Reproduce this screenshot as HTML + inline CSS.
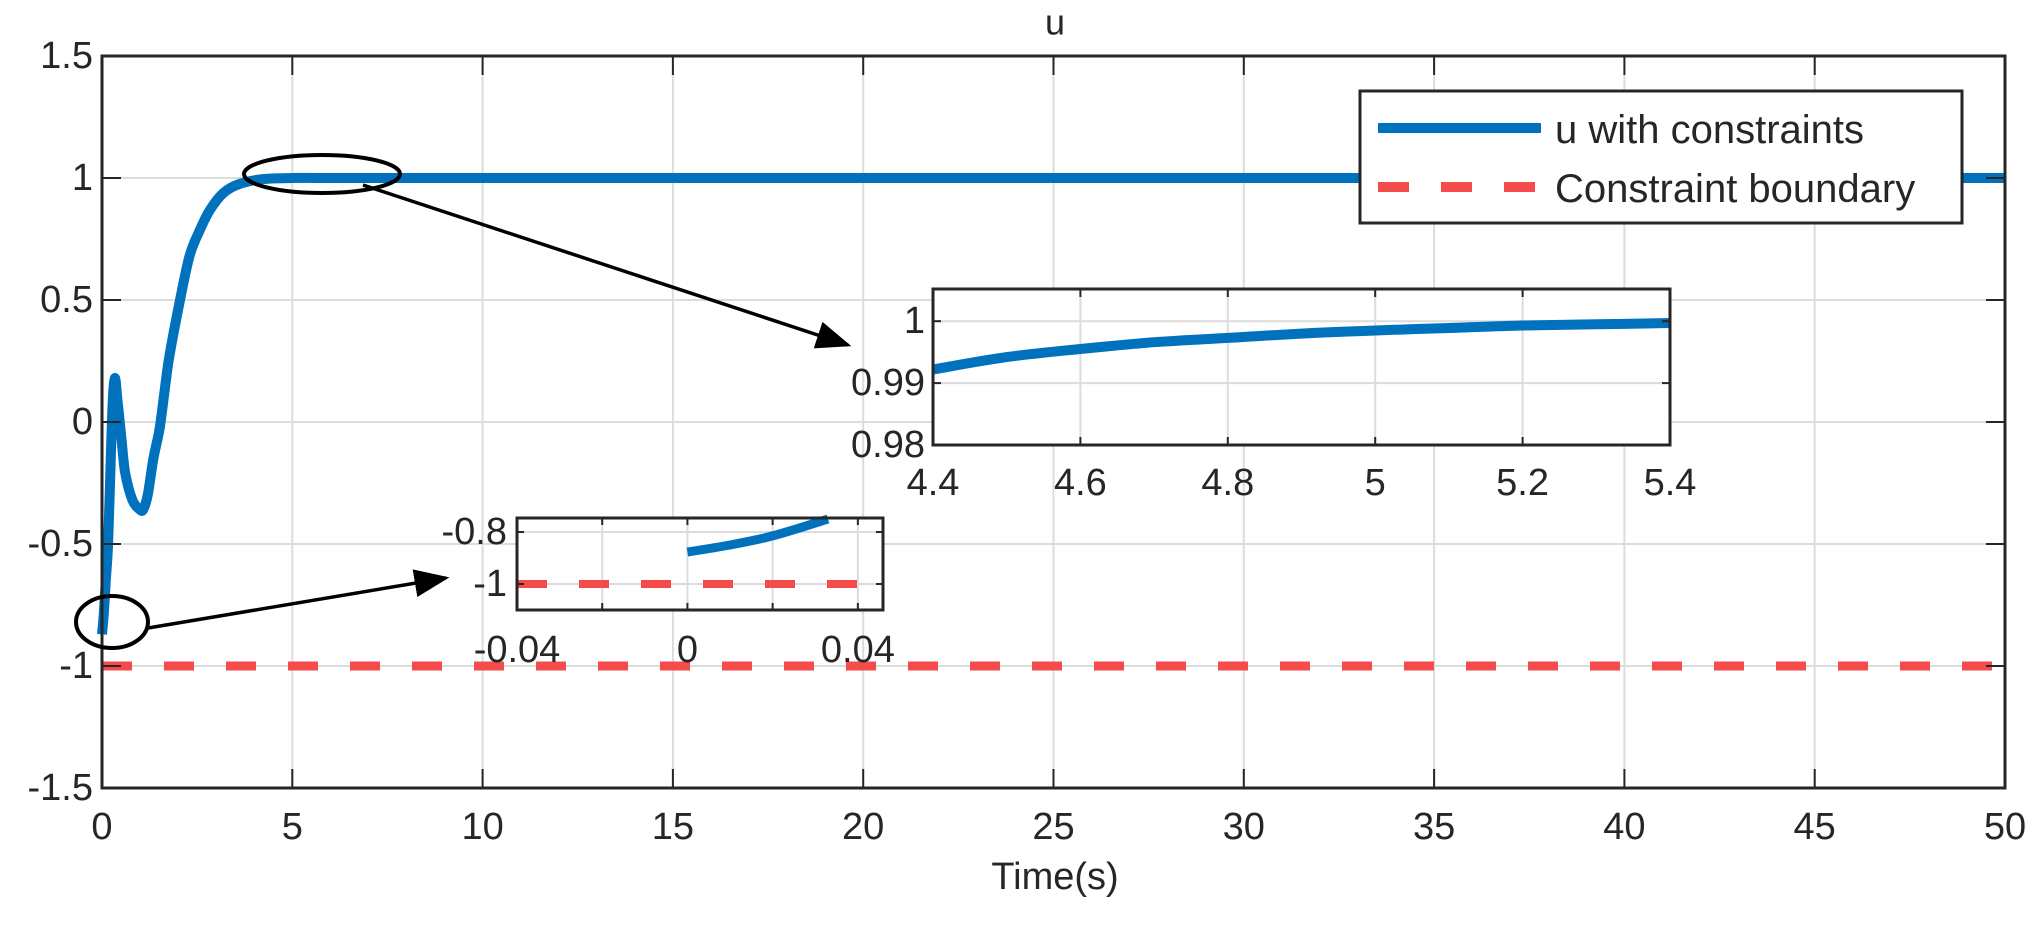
<!DOCTYPE html>
<html><head><meta charset="utf-8"><style>
body{margin:0;background:#fff;}
svg text{font-family:"Liberation Sans",Arial,sans-serif;fill:#262626;}
</style></head><body>
<svg id="c" width="2032" height="927" xmlns="http://www.w3.org/2000/svg">
<defs><marker id="ah" markerWidth="10" markerHeight="8" refX="9" refY="4" orient="auto" markerUnits="strokeWidth"><path d="M0,0 L10,4 L0,8 z" fill="#000"/></marker></defs>
</svg>
<script>
const tVals=[0,0.05,0.1,0.16,0.22,0.28,0.34,0.4,0.5,0.6,0.8,1.0,1.08,1.2,1.35,1.52,1.75,2.05,2.3,2.55,2.84,3.2,3.6,4.2,5,6,50];
const uVals=[-0.87,-0.78,-0.65,-0.5,-0.2,0.08,0.18,0.1,-0.05,-0.2,-0.32,-0.36,-0.36,-0.3,-0.15,-0.02,0.25,0.5,0.68,0.78,0.87,0.94,0.975,0.995,1,1,1];
const boundT=[0,50];
const boundU=[-1,-1];
const xTicks=[0,5,10,15,20,25,30,35,40,45,50];
const yTicks=[-1.5,-1,-0.5,0,0.5,1,1.5];
const zoomT=[4.4,4.5,4.6,4.7,4.8,4.9,5.0,5.1,5.2,5.3,5.4];
const zoomU=[0.9922,0.9942,0.9955,0.9966,0.9973,0.9980,0.9985,0.9989,0.9993,0.9995,0.9997];
const zoomXTicks=[4.4,4.6,4.8,5,5.2,5.4];
const zoomYTicks=[0.98,0.99,1];
const zoom2T=[0,0.01,0.02,0.033];
const zoom2U=[-0.877,-0.85,-0.815,-0.75];
const zoom2XTicks=[-0.04,0,0.04];
const zoom2XMinor=[-0.04,-0.02,0,0.02,0.04];
const zoom2YTicks=[-1,-0.8];

const svg=document.getElementById('c');
const NS='http://www.w3.org/2000/svg';
function el(tag,attrs,parent){const e=document.createElementNS(NS,tag);for(const k in attrs)e.setAttribute(k,attrs[k]);(parent||svg).appendChild(e);return e;}
function txt(s,x,y,size,anchor,name,parent){const t=el('text',{x:x,y:y,'font-size':size,'text-anchor':anchor,'dominant-baseline':'central'},parent);t.textContent=s;


return t;}

function axes(box,xlim,ylim,xt,yt,xMinor,name){
  const g=el('g',{});
  
  
  const X=v=>box.x+(v-xlim[0])/(xlim[1]-xlim[0])*box.w;
  const Y=v=>box.y+box.h-(v-ylim[0])/(ylim[1]-ylim[0])*box.h;
  el('rect',{x:box.x,y:box.y,width:box.w,height:box.h,fill:'#fff'},g);
  (xMinor||xt).forEach(v=>{const gl=el('line',{x1:X(v),x2:X(v),y1:box.y,y2:box.y+box.h,stroke:'#dcdcdc','stroke-width':2},g);
    
    });
  yt.forEach(v=>{const gl=el('line',{x1:box.x,x2:box.x+box.w,y1:Y(v),y2:Y(v),stroke:'#dcdcdc','stroke-width':2},g);
    
    });
  return {g,X,Y,finish:(tl)=>{
    (xMinor||xt).forEach(v=>{el('line',{x1:X(v),x2:X(v),y1:box.y+box.h,y2:box.y+box.h-tl,stroke:'#262626','stroke-width':2},g);el('line',{x1:X(v),x2:X(v),y1:box.y,y2:box.y+tl,stroke:'#262626','stroke-width':2},g);});
    yt.forEach(v=>{el('line',{x1:box.x,x2:box.x+tl,y1:Y(v),y2:Y(v),stroke:'#262626','stroke-width':2},g);el('line',{x1:box.x+box.w,x2:box.x+box.w-tl,y1:Y(v),y2:Y(v),stroke:'#262626','stroke-width':2},g);});
    const b=el('rect',{x:box.x,y:box.y,width:box.w,height:box.h,fill:'none',stroke:'#262626','stroke-width':3},g);
    
    
  }};
}
function path(ax,xs,ys,attrs,name,smooth){
  const P=xs.map((v,i)=>[ax.X(v),ax.Y(ys[i])]);
  let d='M'+P[0][0].toFixed(1)+','+P[0][1].toFixed(1);
  for(let i=0;i<P.length-1;i++){
    const p1=P[i],p2=P[i+1];
    if(!smooth){d+=' L'+p2[0].toFixed(1)+','+p2[1].toFixed(1);continue;}
    const p0=P[Math.max(0,i-1)],p3=P[Math.min(P.length-1,i+2)];
    const lim=(p2[0]-p1[0])/3;
    let v1=[(p2[0]-p0[0])/6,(p2[1]-p0[1])/6];
    if(v1[0]>lim){const s=lim/v1[0];v1=[v1[0]*s,v1[1]*s];}
    let v2=[(p3[0]-p1[0])/6,(p3[1]-p1[1])/6];
    if(v2[0]>lim){const s=lim/v2[0];v2=[v2[0]*s,v2[1]*s];}
    const c1=[p1[0]+v1[0],p1[1]+v1[1]];
    const c2=[p2[0]-v2[0],p2[1]-v2[1]];
    d+=' C'+c1.map(n=>n.toFixed(1)).join(',')+' '+c2.map(n=>n.toFixed(1)).join(',')+' '+p2.map(n=>n.toFixed(1)).join(',');
  }
  const p=el('path',Object.assign({d:d,fill:'none','stroke-linejoin':'round','stroke-linecap':'butt'},attrs),ax.g);
  
  
  return p;
}

// main axes
const M=axes({x:102,y:56,w:1903,h:732},[0,50],[-1.5,1.5],xTicks,yTicks,null,'main-axes');
path(M,boundT,boundU,{stroke:'#f44b4b','stroke-width':9,'stroke-dasharray':'30 32'},'constraint-boundary-line',false);
path(M,tVals,uVals,{stroke:'#0072bd','stroke-width':10},'u-line',true);
M.finish(19);
xTicks.forEach(v=>txt(String(v),M.X(v),827,38,'middle','x-tick-label'));
yTicks.forEach(v=>txt(String(v),93,M.Y(v),38,'end','y-tick-label'));
txt('Time(s)',1055,877,38,'middle','x-axis-title');
txt('u',1055,22,36,'middle','chart-title');

// legend
const lg=el('g',{});


el('rect',{x:1360,y:91,width:602,height:132,fill:'#fff',stroke:'#262626','stroke-width':3},lg);
el('line',{x1:1378,x2:1541,y1:128,y2:128,stroke:'#0072bd','stroke-width':10},lg);
el('line',{x1:1378,x2:1541,y1:187,y2:187,stroke:'#f44b4b','stroke-width':10,'stroke-dasharray':'31 32'},lg);
txt('u with constraints',1555,130,40,'start','legend-entry-u',lg);
txt('Constraint boundary',1555,189,40,'start','legend-entry-boundary',lg);

// annotations
const an=el('g',{});


el('ellipse',{cx:322,cy:174,rx:78,ry:19,fill:'none',stroke:'#000','stroke-width':4},an);
el('line',{x1:363,y1:185,x2:848,y2:345,stroke:'#000','stroke-width':3.5,'marker-end':'url(#ah)'},an);
el('ellipse',{cx:112,cy:622,rx:36,ry:26,fill:'none',stroke:'#000','stroke-width':4},an);
el('line',{x1:148,y1:628,x2:446,y2:578,stroke:'#000','stroke-width':3.5,'marker-end':'url(#ah)'},an);

// inset 1
const Z=axes({x:933,y:289,w:737,h:156},[4.4,5.4],[0.98,1.0052],zoomXTicks,zoomYTicks,null,'zoom-inset-steady');
path(Z,zoomT,zoomU,{stroke:'#0072bd','stroke-width':10},'u-line-zoom',true);
Z.finish(8);
zoomXTicks.forEach(v=>txt(String(v),Z.X(v),483,38,'middle','zoom-x-tick-label'));
zoomYTicks.forEach(v=>txt(String(v),925,Z.Y(v),38,'end','zoom-y-tick-label'));

// inset 2
const Z2=axes({x:517,y:518,w:366,h:92},[-0.04,0.0459],[-1.1,-0.746],zoom2XTicks,zoom2YTicks,zoom2XMinor,'zoom-inset-start');
path(Z2,[-0.04,0.0459],[-1,-1],{stroke:'#f44b4b','stroke-width':8,'stroke-dasharray':'30 32'},'constraint-boundary-zoom',false);
path(Z2,zoom2T,zoom2U,{stroke:'#0072bd','stroke-width':9},'u-line-zoom-start',true);
Z2.finish(7);
zoom2XTicks.forEach(v=>txt(String(v),Z2.X(v),650,38,'middle','zoom2-x-tick-label'));
zoom2YTicks.forEach(v=>txt(String(v),507,Z2.Y(v),38,'end','zoom2-y-tick-label'));
</script>
</body></html>
